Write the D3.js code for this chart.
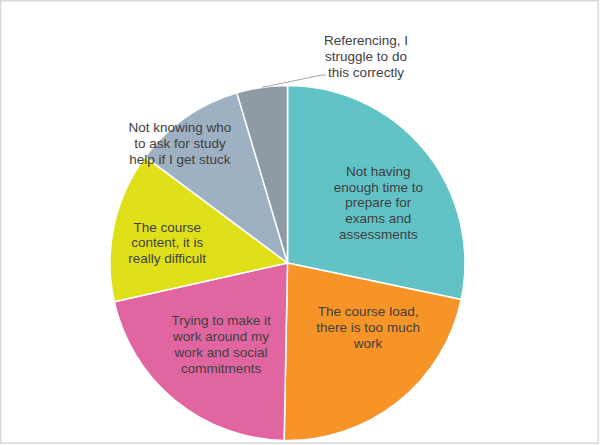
<!DOCTYPE html>
<html>
<head>
<meta charset="utf-8">
<script src="https://cdn.jsdelivr.net/npm/d3@7"></script>
<style>
  html, body { margin: 0; padding: 0; background: #fff; }
  svg { display: block; }
</style>
</head>
<body>
<svg id="chart" width="600" height="445"></svg>
<script>
// ---- data ----
const categories = [
  "Not having enough time to prepare for exams and assessments",
  "The course load, there is too much work",
  "Trying to make it work around my work and social commitments",
  "The course content, it is really difficult",
  "Not knowing who to ask for study help if I get stuck",
  "Referencing, I struggle to do this correctly"
];
const labelLines = [
  ["Not having", "enough time to", "prepare for", "exams and", "assessments"],
  ["The course load,", "there is too much", "work"],
  ["Trying to make it", "work around my", "work and social", "commitments"],
  ["The course", "content, it is", "really difficult"],
  ["Not knowing who", "to ask for study", "help if I get stuck"],
  ["Referencing, I", "struggle to do", "this correctly"]
];
const values = [28.3, 22.0, 21.2, 13.7, 10.2, 4.6];
const colors = ["#62C3C7", "#F79428", "#E065A1", "#E0E01A", "#9DB1C2", "#8E9AA4"];

// ---- layout ----
const svg = d3.select("#chart");
const W = 600, H = 445;
const cx = 287.5, cy = 263, R = 177.5;

svg.append("rect")
  .attr("x", 0.75).attr("y", 0.75)
  .attr("width", 597.5).attr("height", 442.5)
  .attr("fill", "#fff")
  .attr("stroke", "#d9d9d9").attr("stroke-width", 1.5);

const pie = d3.pie().sort(null).value(d => d);
const arcs = pie(values);
const arc = d3.arc().innerRadius(0).outerRadius(R);

const g = svg.append("g").attr("transform", `translate(${cx},${cy})`);

g.selectAll("path.slice")
  .data(arcs)
  .join("path")
  .attr("class", "slice")
  .attr("d", arc)
  .attr("fill", (d, i) => colors[i])
  .attr("stroke", "#fff")
  .attr("stroke-width", 1.5)
  .attr("stroke-linejoin", "round");

// label placement: polar offset from each slice's mid angle (degrees, radius)
const labelLayout = [
  { da: 5.5,  r: 109 },
  { da: -13,  r: 103 },
  { da: 0,    r: 105 },
  { da: -2.5, r: 122 },
  { da: -7,   r: 161 },
  { da: 0,    r: 0, outside: true }
];
const lineH = 15.8;
const fontFamily = "'Liberation Sans', Arial, sans-serif";

function polar(angle, r) {
  return [Math.sin(angle) * r, -Math.cos(angle) * r];
}

arcs.forEach((d, i) => {
  const mid = (d.startAngle + d.endAngle) / 2;
  const lay = labelLayout[i];
  let px, py;
  if (lay.outside) {
    const [sx, sy] = polar(mid, R);
    px = 366 - cx; py = 56 - cy;
    const ex = 322 - cx, ey = 75 - cy;
    g.append("polyline")
      .attr("points", `${sx},${sy} ${ex},${ey} ${ex + 4},${ey}`)
      .attr("fill", "none")
      .attr("stroke", "#a6a6a6")
      .attr("stroke-width", 1);
  } else {
    [px, py] = polar(mid + lay.da * Math.PI / 180, lay.r);
  }
  const lines = labelLines[i];
  lines.forEach((ln, k) => {
    g.append("text")
      .attr("text-anchor", "middle")
      .attr("font-family", fontFamily)
      .attr("font-size", 13.5)
      .attr("fill", "#404040")
      .attr("x", px)
      .attr("y", py + (k - (lines.length - 1) / 2) * lineH)
      .attr("dy", "0.35em")
      .text(ln);
  });
});
</script>
</body>
</html>
